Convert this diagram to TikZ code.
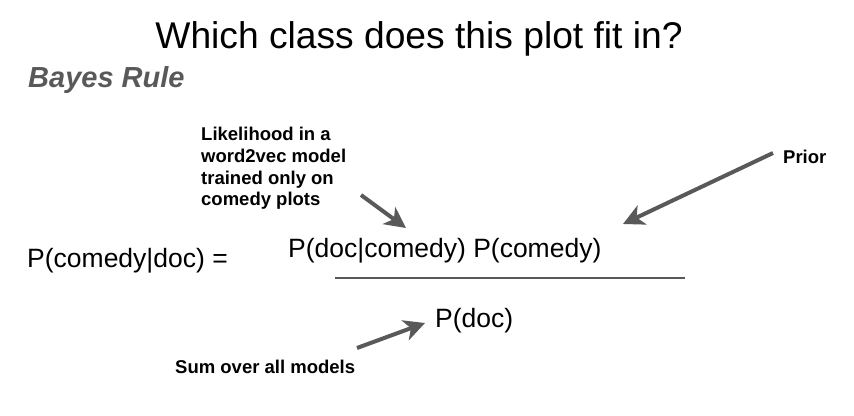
\documentclass[tikz,border=0pt]{standalone}
\usepackage{fontspec}
\setmainfont{Liberation Sans}
\usetikzlibrary{arrows.meta}
\definecolor{arrowgray}{HTML}{595959}

\begin{document}
\begin{tikzpicture}[x=1pt,y=-1pt,inner sep=0pt,
  pointer/.style={draw=arrowgray,line width=4pt,-{Stealth[length=21pt,width=21pt,inset=6pt]}},
  note/.style={font=\fontsize{18.5}{21.7}\selectfont\bfseries,align=left},
  big/.style={font=\fontsize{26.5}{32}\selectfont}]
\useasboundingbox (0,0) rectangle (854,415);

\node [anchor=base] (title) at (419,48) {\fontsize{37.2}{44}\selectfont Which class does this plot fit in?};
\node [anchor=base west,text=arrowgray] (rule) at (28,87) {\fontsize{29}{34}\selectfont\bfseries\itshape Bayes Rule};

\node [big,anchor=base west] (lhs) at (27,267) {P(comedy|doc) =};
\node [big,anchor=base west] (num) at (288,257) {P(doc|comedy) P(comedy)};
\node [big,anchor=base west] (den) at (435,327) {P(doc)};

\coordinate (bar l) at (335,278);
\coordinate (bar r) at (685,278);
\draw [draw=arrowgray,line width=2.5pt] (bar l) -- (bar r);

\node [note,anchor=north west] (likely) at (201,127) {Likelihood in a\\word2vec model\\trained only on\\comedy plots};
\node [note,anchor=base west] (prior) at (783,163) {Prior};
\node [note,anchor=base west] (sum) at (175,373) {Sum over all models};

% arrows to the terms
\coordinate (likely tail) at (361,195);
\coordinate (likely tip) at (406,228);
\coordinate (prior tail) at (773,153);
\coordinate (prior tip) at (623,224);
\coordinate (sum tail) at (357,348);
\coordinate (sum tip) at (425,323);

\draw [pointer] (likely tail) -- (likely tip);
\draw [pointer] (prior tail) -- (prior tip);
\draw [pointer] (sum tail) -- (sum tip);

\end{tikzpicture}
\end{document}
